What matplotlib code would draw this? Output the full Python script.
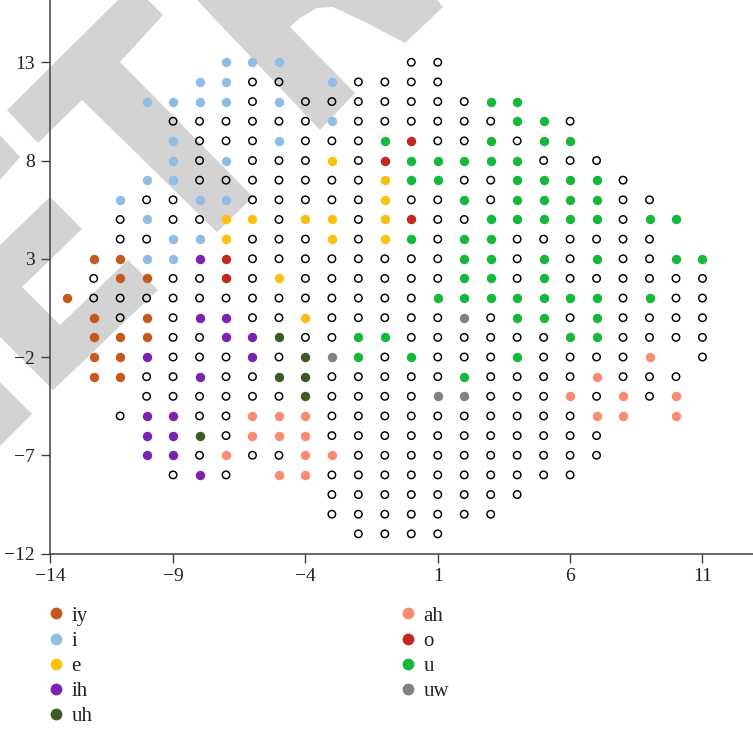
import matplotlib
matplotlib.use('Agg')
import matplotlib.pyplot as plt
from matplotlib.patches import Polygon
from matplotlib.lines import Line2D

plt.rcParams['font.family'] = ['Liberation Serif', 'DejaVu Serif']

# ---------------- data ----------------
# grid columns run from x = -14 to x = 11; one string per row (y value)
# codes: o = unlabelled (open), Y iy, I i, E e, H ih, U uh, A ah, O o, G u, W uw
x_first = -14
y_values = [13, 12, 11, 10, 9, 8, 7, 6, 5, 4, 3, 2, 1, 0,
            -1, -2, -3, -4, -5, -6, -7, -8, -9, -10, -11]
rows = [
    ".......III....oo..........",   # 13
    "......IIoo.Ioooo..........",   # 12
    "....IIIIoIoooooooGG.......",   # 11
    ".....ooooooIooooooGGo.....",   # 10
    ".....IoooIoooGOooGoGG.....",   # 9
    ".....IoIoooEoOGGGGGooo....",   # 8
    "....IIoooooooEGGooGGGGo...",   # 7
    "...IooIIoooooEooGoGGGGoo..",   # 6
    "...oIooEEoEEoEOooGGGGGoGG.",   # 5
    "...ooIIEoooEoEGoGGoooooo..",   # 4
    "..YYIIHOooooooooGGoGoGooGG",   # 3
    "..oYYooOoEooooooGGoGoooooo",   # 2
    ".YoooooooooooooGGGGGGGoGoo",   # 1
    "..YoYoHHooEoooooWoGGoGoooo",   # 0
    "..YYYooHHUooGGooooooGGoooo",   # -1
    "..YYHoooHoUWGoGoooGooooA.o",   # -2
    "..YYooHooUUoooooGooooAooo.",   # -3
    "....ooooooUooooWWoooAoAoA.",   # -4
    "...oHHooAAAooooooooooAA.A.",   # -5
    "....HHUoAAAooooooooooo....",   # -6
    "....HHoAooAAoooooooooo....",   # -7
    ".....oHo.AAoooooooooo.....",   # -8
    "...........oooooooo.......",   # -9
    "...........ooooooo........",   # -10
    "............oooo..........",   # -11
]

class_codes = ['Y', 'I', 'E', 'H', 'U', 'A', 'O', 'G', 'W']
class_labels = ['iy', 'i', 'e', 'ih', 'uh', 'ah', 'o', 'u', 'uw']
class_colors = ['#c65a1b', '#8fbde5', '#fdc010', '#7b22ae', '#3c5a23',
                '#fa8a72', '#c0271f', '#16b83b', '#858080']

# watermark shapes (pixel coordinates in the figure, origin top-left)
watermark = [
    [(118, 0), (148, 0), (163, 15), (120, 62), (253, 197), (217, 232),
     (82, 100), (38, 143), (7, 110)],
    [(197, 0), (437, 0), (443, 7), (405, 43), (367, 23), (333, 7),
     (317, 8), (300, 18), (290, 27), (355, 93), (320, 130)],
    [(0, 135), (20, 157), (0, 180)],
    [(0, 245), (50, 197), (82, 229), (22, 287), (60, 325), (128, 260),
     (158, 290), (53, 390), (0, 337)],
    [(0, 382), (32, 414), (0, 446)],
]

# ---------------- figure ----------------
W, H = 753, 731
fig = plt.figure(figsize=(W / 100, H / 100), dpi=100)

for poly in watermark:
    pts = [(px / W, 1 - py / H) for px, py in poly]
    fig.patches.append(Polygon(pts, closed=True, transform=fig.transFigure,
                               facecolor='#d3d3d3', edgecolor='none', zorder=-1))

ax_left, ax_bottom_px = 50, 553.5
ax = fig.add_axes([ax_left / W, (H - ax_bottom_px) / H,
                   (W - ax_left) / W, ax_bottom_px / H])
ax.patch.set_alpha(0)

open_x, open_y = [], []
filled = {c: ([], []) for c in class_codes}
for yv, row in zip(y_values, rows):
    for i, ch in enumerate(row):
        xv = x_first + i
        if ch == 'o':
            open_x.append(xv)
            open_y.append(yv)
        elif ch in filled:
            filled[ch][0].append(xv)
            filled[ch][1].append(yv)

ax.scatter(open_x, open_y, s=29, facecolors='none', edgecolors='black',
           linewidths=1.05, zorder=3)
for code, col in zip(class_codes, class_colors):
    xs, ys = filled[code]
    ax.scatter(xs, ys, s=46, color=col, linewidths=0, zorder=3)

xmin, xmax = -13.65, 12.91
ax.set_xlim(xmin, xmax)
ax.set_ylim(-12, 16.17)

x_ticks = [-14, -9, -4, 1, 6, 11]
y_ticks = [-12, -7, -2, 3, 8, 13]
ax.set_xticks([max(t, xmin) for t in x_ticks])
ax.set_xticklabels(['\u2212' + str(-t) if t < 0 else str(t) for t in x_ticks])
ax.set_yticks(y_ticks)
ax.set_yticklabels(['\u2212' + str(-t) if t < 0 else str(t) for t in y_ticks])

for s in ['top', 'right']:
    ax.spines[s].set_visible(False)
for s in ['left', 'bottom']:
    ax.spines[s].set_color('#404040')
    ax.spines[s].set_linewidth(1.1)
ax.tick_params(direction='out', length=6.2, width=1.0, color='#404040',
               labelsize=14, pad=4.5, labelcolor='#222222')

# legend: two columns
handles = [Line2D([], [], marker='o', linestyle='none', markersize=8.5,
                  markerfacecolor=c, markeredgewidth=0) for c in class_colors]
leg_kw = dict(loc='upper left', frameon=False, borderpad=0, borderaxespad=0,
              handlelength=0.6, handletextpad=0.45, labelspacing=0.27,
              fontsize=15)
leg1 = fig.legend(handles[:5], class_labels[:5],
                  bbox_to_anchor=(49.5 / W, 1 - 606 / H), **leg_kw)
leg2 = fig.legend(handles[5:], class_labels[5:],
                  bbox_to_anchor=(401.5 / W, 1 - 606 / H), **leg_kw)
for lg in (leg1, leg2):
    for t in lg.get_texts():
        t.set_color('#222222')

fig.savefig('out.png', dpi=100)
